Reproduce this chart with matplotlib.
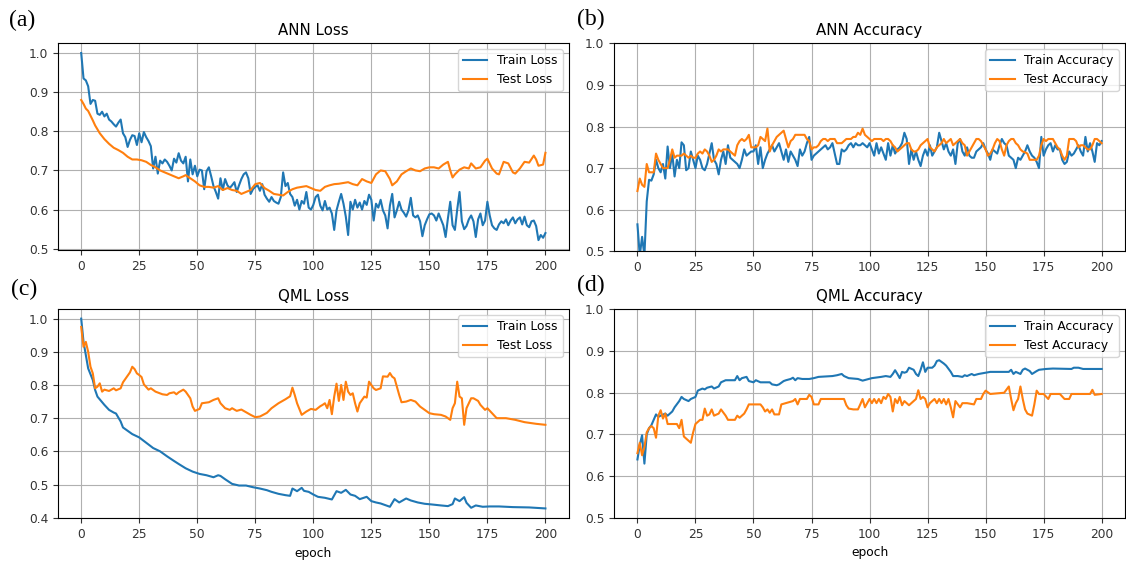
from matplotlib import pyplot as plt
import matplotlib
import numpy as np

matplotlib.rcParams.update({'font.size': 8.8})

# ---------------- ANN loss (a) ----------------
ann_train_loss = [
    1.000, 0.935, 0.930, 0.915, 0.870, 0.880, 0.878, 0.845, 0.842, 0.850,
    0.838, 0.845, 0.830, 0.825, 0.818, 0.812, 0.822, 0.830, 0.795, 0.785,
    0.760, 0.778, 0.790, 0.788, 0.765, 0.795, 0.772, 0.798, 0.785, 0.775,
    0.762, 0.705, 0.735, 0.692, 0.725, 0.718, 0.728, 0.722, 0.712, 0.700,
    0.730, 0.720, 0.744, 0.725, 0.718, 0.735, 0.672, 0.728, 0.690, 0.712,
    0.685, 0.702, 0.700, 0.652, 0.698, 0.708, 0.685, 0.660, 0.645, 0.628,
    0.680, 0.650, 0.678, 0.662, 0.655, 0.662, 0.670, 0.645, 0.662, 0.678,
    0.690, 0.695, 0.680, 0.640, 0.652, 0.658, 0.662, 0.648, 0.665, 0.638,
    0.628, 0.620, 0.632, 0.622, 0.618, 0.615, 0.632, 0.695, 0.660, 0.668,
    0.640, 0.632, 0.610, 0.625, 0.600, 0.622, 0.615, 0.645, 0.605, 0.600,
    0.612, 0.632, 0.638, 0.610, 0.598, 0.622, 0.600, 0.605, 0.590, 0.548,
    0.598, 0.620, 0.640, 0.615, 0.582, 0.535, 0.620, 0.600, 0.625, 0.605,
    0.618, 0.600, 0.622, 0.612, 0.638, 0.625, 0.572, 0.615, 0.605, 0.625,
    0.598, 0.585, 0.552, 0.610, 0.640, 0.580, 0.598, 0.620, 0.600, 0.592,
    0.582, 0.598, 0.630, 0.585, 0.580, 0.585, 0.570, 0.532, 0.560, 0.575,
    0.588, 0.590, 0.585, 0.572, 0.590, 0.575, 0.560, 0.530, 0.578, 0.620,
    0.560, 0.548, 0.600, 0.645, 0.570, 0.550, 0.558, 0.575, 0.585, 0.570,
    0.530, 0.575, 0.590, 0.560, 0.572, 0.620, 0.585, 0.560, 0.552, 0.548,
    0.562, 0.570, 0.565, 0.575, 0.560, 0.572, 0.580, 0.565, 0.575, 0.580,
    0.562, 0.582, 0.560, 0.555, 0.570, 0.572, 0.558, 0.522, 0.535, 0.528,
    0.540]

ann_test_loss_ep = [
    0, 1, 2, 3, 4, 5, 6, 8, 10, 12, 14, 16, 18, 20, 22, 24, 26, 28, 30, 32,
    34, 36, 38, 40, 42, 44, 45, 47, 49, 51, 53, 55, 57, 59, 61, 63, 65, 67,
    69, 71, 73, 75, 77, 79, 81, 83, 85, 87, 89, 91, 93, 95, 97, 99, 101, 103,
    105, 107, 109, 111, 113, 115, 117, 119, 121, 123, 125, 127, 129, 131,
    133, 134, 136, 138, 140, 142, 144, 146, 148, 150, 152, 154, 156, 158,
    159, 160, 161, 163, 165, 167, 168, 170, 172, 174, 175, 177, 179, 180,
    182, 184, 186, 187, 189, 191, 193, 195, 196, 197, 199, 200]
ann_test_loss = [
    0.880, 0.870, 0.858, 0.852, 0.840, 0.828, 0.815, 0.795, 0.780, 0.768,
    0.758, 0.752, 0.745, 0.735, 0.728, 0.728, 0.726, 0.722, 0.714, 0.708,
    0.700, 0.695, 0.690, 0.685, 0.680, 0.685, 0.688, 0.680, 0.672, 0.662,
    0.658, 0.658, 0.656, 0.660, 0.650, 0.655, 0.650, 0.648, 0.640, 0.645,
    0.650, 0.665, 0.668, 0.655, 0.648, 0.640, 0.638, 0.636, 0.645, 0.652,
    0.656, 0.658, 0.660, 0.655, 0.650, 0.648, 0.658, 0.662, 0.665, 0.666,
    0.668, 0.670, 0.665, 0.662, 0.678, 0.672, 0.668, 0.690, 0.700, 0.698,
    0.678, 0.662, 0.672, 0.690, 0.698, 0.705, 0.700, 0.698, 0.705, 0.708,
    0.708, 0.705, 0.715, 0.722, 0.700, 0.682, 0.690, 0.702, 0.708, 0.705,
    0.718, 0.705, 0.708, 0.725, 0.730, 0.705, 0.692, 0.690, 0.722, 0.718,
    0.695, 0.692, 0.705, 0.722, 0.720, 0.738, 0.728, 0.712, 0.715, 0.745]

# ---------------- ANN accuracy (b) ----------------
ann_train_acc = [
    0.565, 0.490, 0.535, 0.490, 0.620, 0.672, 0.670, 0.685, 0.720, 0.700,
    0.690, 0.710, 0.675, 0.752, 0.700, 0.735, 0.680, 0.720, 0.700, 0.762,
    0.755, 0.695, 0.700, 0.740, 0.720, 0.700, 0.730, 0.720, 0.700, 0.695,
    0.710, 0.735, 0.760, 0.720, 0.710, 0.685, 0.720, 0.740, 0.710, 0.755,
    0.725, 0.720, 0.715, 0.710, 0.700, 0.720, 0.745, 0.730, 0.735, 0.740,
    0.740, 0.755, 0.710, 0.750, 0.700, 0.720, 0.735, 0.745, 0.755, 0.740,
    0.750, 0.760, 0.740, 0.720, 0.745, 0.715, 0.740, 0.730, 0.720, 0.705,
    0.745, 0.730, 0.740, 0.760, 0.775, 0.720, 0.730, 0.735, 0.740, 0.745,
    0.750, 0.755, 0.745, 0.750, 0.760, 0.735, 0.710, 0.710, 0.745, 0.740,
    0.745, 0.755, 0.760, 0.750, 0.760, 0.755, 0.755, 0.760, 0.755, 0.750,
    0.760, 0.745, 0.730, 0.760, 0.735, 0.750, 0.735, 0.720, 0.760, 0.730,
    0.755, 0.735, 0.745, 0.750, 0.760, 0.785, 0.770, 0.710, 0.745, 0.720,
    0.740, 0.720, 0.705, 0.730, 0.745, 0.730, 0.755, 0.730, 0.740, 0.750,
    0.785, 0.765, 0.745, 0.760, 0.740, 0.730, 0.745, 0.710, 0.760, 0.770,
    0.740, 0.730, 0.750, 0.730, 0.725, 0.725, 0.740, 0.745, 0.750, 0.760,
    0.745, 0.735, 0.720, 0.745, 0.740, 0.735, 0.755, 0.770, 0.760, 0.755,
    0.730, 0.725, 0.720, 0.700, 0.725, 0.720, 0.730, 0.740, 0.755, 0.740,
    0.730, 0.725, 0.715, 0.700, 0.775, 0.730, 0.745, 0.755, 0.760, 0.740,
    0.755, 0.745, 0.745, 0.720, 0.710, 0.715, 0.740, 0.730, 0.735, 0.745,
    0.755, 0.740, 0.730, 0.775, 0.740, 0.760, 0.740, 0.715, 0.760, 0.755,
    0.765]

ann_test_acc = [
    0.645, 0.675, 0.660, 0.655, 0.710, 0.690, 0.690, 0.690, 0.735, 0.720,
    0.710, 0.700, 0.700, 0.700, 0.720, 0.745, 0.725, 0.730, 0.730, 0.730,
    0.735, 0.730, 0.725, 0.730, 0.725, 0.725, 0.735, 0.740, 0.735, 0.745,
    0.740, 0.730, 0.715, 0.720, 0.730, 0.745, 0.740, 0.745, 0.745, 0.745,
    0.740, 0.735, 0.730, 0.755, 0.765, 0.770, 0.765, 0.770, 0.780, 0.750,
    0.750, 0.750, 0.755, 0.775, 0.770, 0.765, 0.795, 0.740, 0.755, 0.765,
    0.775, 0.780, 0.785, 0.790, 0.770, 0.750, 0.765, 0.770, 0.780, 0.780,
    0.780, 0.780, 0.780, 0.770, 0.765, 0.745, 0.750, 0.750, 0.755, 0.765,
    0.770, 0.770, 0.765, 0.770, 0.770, 0.770, 0.760, 0.760, 0.760, 0.765,
    0.770, 0.770, 0.770, 0.775, 0.775, 0.785, 0.780, 0.795, 0.780, 0.775,
    0.770, 0.765, 0.770, 0.770, 0.770, 0.770, 0.765, 0.770, 0.770, 0.765,
    0.755, 0.750, 0.740, 0.745, 0.750, 0.755, 0.760, 0.760, 0.745, 0.740,
    0.740, 0.745, 0.755, 0.760, 0.765, 0.770, 0.750, 0.745, 0.740, 0.750,
    0.755, 0.760, 0.770, 0.760, 0.765, 0.770, 0.755, 0.760, 0.765, 0.770,
    0.760, 0.755, 0.730, 0.740, 0.750, 0.760, 0.770, 0.770, 0.765, 0.755,
    0.745, 0.730, 0.735, 0.745, 0.760, 0.770, 0.765, 0.745, 0.730, 0.755,
    0.765, 0.770, 0.770, 0.760, 0.755, 0.745, 0.740, 0.738, 0.735, 0.720,
    0.720, 0.720, 0.720, 0.730, 0.755, 0.770, 0.765, 0.770, 0.770, 0.770,
    0.760, 0.750, 0.745, 0.730, 0.720, 0.730, 0.770, 0.770, 0.770, 0.765,
    0.750, 0.755, 0.755, 0.750, 0.745, 0.745, 0.755, 0.770, 0.770, 0.765,
    0.760]

# ---------------- QML loss (c) ----------------
qml_train_loss_ep = [
    0, 1, 2, 3, 5, 6, 7, 10, 12, 14, 15, 17, 18, 20, 22, 25, 28, 31, 34, 37,
    40, 42, 45, 48, 51, 54, 57, 59, 60, 62, 65, 68, 71, 74, 77, 80, 82, 85,
    88, 90, 91, 93, 95, 96, 98, 100, 102, 105, 108, 110, 112, 114, 116, 118,
    120, 123, 125, 127, 129, 131, 133, 135, 137, 140, 142, 145, 148, 151,
    155, 158, 160, 161, 163, 165, 166, 168, 170, 173, 176, 180, 186, 193, 200]
qml_train_loss = [
    1.000, 0.930, 0.890, 0.850, 0.815, 0.785, 0.765, 0.740, 0.725, 0.717,
    0.714, 0.690, 0.672, 0.662, 0.652, 0.642, 0.626, 0.610, 0.600, 0.585,
    0.571, 0.562, 0.549, 0.539, 0.532, 0.528, 0.522, 0.528, 0.526, 0.516,
    0.502, 0.497, 0.497, 0.492, 0.488, 0.483, 0.478, 0.472, 0.468, 0.466,
    0.488, 0.480, 0.490, 0.481, 0.478, 0.470, 0.463, 0.460, 0.455, 0.480,
    0.475, 0.484, 0.470, 0.466, 0.456, 0.463, 0.450, 0.446, 0.443, 0.438,
    0.433, 0.456, 0.446, 0.458, 0.452, 0.446, 0.442, 0.440, 0.437, 0.435,
    0.441, 0.458, 0.450, 0.462, 0.445, 0.430, 0.437, 0.433, 0.434, 0.434,
    0.432, 0.431, 0.428]

qml_test_loss_ep = [
    0, 1, 2, 3, 4, 5, 6, 7, 8, 9, 10, 12, 14, 15, 17, 18, 20, 21, 22, 23,
    24, 25, 26, 27, 29, 30, 32, 35, 37, 38, 40, 41, 42, 44, 45, 47, 48, 49,
    51, 52, 55, 57, 59, 60, 62, 64, 65, 67, 69, 71, 73, 75, 77, 80, 82, 85,
    88, 90, 91, 92, 93, 95, 97, 99, 101, 103, 104, 105, 106, 107, 108, 109,
    110, 111, 112, 113, 114, 115, 116, 117, 118, 119, 120, 122, 123, 124,
    125, 126, 127, 129, 130, 132, 133, 134, 135, 137, 138, 140, 142, 144,
    146, 148, 150, 152, 155, 157, 158, 159, 160, 161, 162, 163, 164, 165,
    166, 168, 169, 171, 172, 174, 175, 177, 179, 183, 187, 191, 196, 200]
qml_test_loss = [
    0.975, 0.915, 0.930, 0.900, 0.855, 0.835, 0.790, 0.795, 0.805, 0.780,
    0.786, 0.782, 0.790, 0.784, 0.790, 0.808, 0.828, 0.838, 0.855, 0.848,
    0.835, 0.830, 0.824, 0.802, 0.786, 0.790, 0.780, 0.772, 0.770, 0.775,
    0.778, 0.772, 0.778, 0.786, 0.780, 0.760, 0.735, 0.722, 0.728, 0.745,
    0.748, 0.755, 0.760, 0.745, 0.730, 0.725, 0.730, 0.722, 0.726, 0.718,
    0.710, 0.703, 0.705, 0.716, 0.730, 0.745, 0.757, 0.766, 0.792, 0.770,
    0.745, 0.710, 0.720, 0.728, 0.725, 0.736, 0.740, 0.745, 0.730, 0.755,
    0.712, 0.765, 0.804, 0.752, 0.800, 0.755, 0.810, 0.780, 0.770, 0.775,
    0.745, 0.720, 0.745, 0.765, 0.762, 0.810, 0.800, 0.790, 0.785, 0.790,
    0.826, 0.825, 0.836, 0.825, 0.820, 0.770, 0.748, 0.750, 0.755, 0.750,
    0.735, 0.725, 0.715, 0.712, 0.710, 0.705, 0.700, 0.695, 0.730, 0.745,
    0.810, 0.765, 0.760, 0.680, 0.730, 0.760, 0.760, 0.752, 0.740, 0.725,
    0.730, 0.715, 0.700, 0.700, 0.695, 0.688, 0.683, 0.680]

# ---------------- QML accuracy (d) ----------------
qml_train_acc_ep = [
    0, 1, 2, 3, 4, 5, 6, 7, 8, 9, 10, 12, 13, 15, 16, 18, 19, 20, 22, 23,
    25, 26, 28, 29, 30, 32, 33, 35, 36, 38, 42, 43, 44, 45, 47, 48, 50, 51,
    53, 57, 58, 60, 61, 63, 64, 66, 67, 68, 69, 71, 74, 76, 78, 84, 86, 88,
    89, 91, 95, 97, 99, 101, 105, 107, 109, 110, 111, 112, 113, 114, 115,
    116, 117, 119, 120, 121, 122, 123, 124, 125, 127, 128, 129, 130, 132,
    133, 135, 136, 138, 140, 141, 142, 144, 145, 147, 150, 152, 160, 161,
    162, 163, 165, 166, 167, 169, 170, 172, 173, 176, 179, 187, 188, 190,
    192, 200]
qml_train_acc = [
    0.640, 0.675, 0.698, 0.630, 0.700, 0.715, 0.722, 0.735, 0.748, 0.742,
    0.745, 0.750, 0.745, 0.755, 0.765, 0.780, 0.790, 0.785, 0.780, 0.785,
    0.790, 0.805, 0.810, 0.808, 0.812, 0.815, 0.810, 0.815, 0.825, 0.830,
    0.830, 0.840, 0.830, 0.835, 0.838, 0.828, 0.825, 0.830, 0.825, 0.825,
    0.820, 0.818, 0.820, 0.828, 0.830, 0.833, 0.836, 0.830, 0.835, 0.833,
    0.833, 0.835, 0.838, 0.840, 0.842, 0.845, 0.840, 0.835, 0.833, 0.829,
    0.832, 0.835, 0.838, 0.840, 0.838, 0.845, 0.854, 0.845, 0.835, 0.850,
    0.848, 0.850, 0.860, 0.855, 0.845, 0.840, 0.855, 0.873, 0.850, 0.860,
    0.860, 0.865, 0.876, 0.878, 0.870, 0.865, 0.850, 0.840, 0.840, 0.838,
    0.842, 0.840, 0.845, 0.842, 0.845, 0.848, 0.850, 0.850, 0.855, 0.845,
    0.850, 0.845, 0.855, 0.858, 0.852, 0.845, 0.852, 0.855, 0.857, 0.858,
    0.857, 0.860, 0.860, 0.857, 0.857]

qml_test_acc_ep = [
    0, 1, 2, 3, 4, 5, 6, 7, 8, 9, 10, 11, 12, 13, 15, 17, 18, 19, 20, 21,
    23, 24, 25, 27, 28, 29, 30, 31, 32, 33, 35, 36, 38, 39, 42, 43, 44, 46,
    47, 48, 53, 54, 55, 56, 57, 58, 59, 61, 62, 67, 68, 69, 70, 73, 74, 75,
    76, 78, 79, 89, 90, 91, 93, 95, 96, 97, 98, 100, 101, 102, 103, 104,
    105, 106, 107, 108, 109, 110, 111, 112, 113, 114, 115, 117, 118, 120,
    121, 122, 123, 124, 125, 126, 128, 129, 130, 131, 132, 133, 134, 135,
    136, 137, 139, 140, 142, 145, 146, 148, 149, 150, 152, 158, 160, 161,
    162, 163, 164, 165, 166, 167, 168, 170, 171, 172, 173, 175, 177, 178,
    182, 184, 186, 187, 195, 196, 197, 200]
qml_test_acc = [
    0.655, 0.680, 0.650, 0.670, 0.705, 0.715, 0.720, 0.715, 0.692, 0.745,
    0.758, 0.738, 0.750, 0.725, 0.725, 0.725, 0.715, 0.735, 0.695, 0.690,
    0.680, 0.705, 0.725, 0.735, 0.735, 0.762, 0.745, 0.748, 0.760, 0.745,
    0.750, 0.760, 0.745, 0.735, 0.735, 0.745, 0.740, 0.750, 0.760, 0.772,
    0.772, 0.765, 0.755, 0.760, 0.752, 0.760, 0.748, 0.748, 0.772, 0.780,
    0.785, 0.772, 0.785, 0.785, 0.795, 0.790, 0.772, 0.772, 0.785, 0.785,
    0.770, 0.762, 0.760, 0.760, 0.772, 0.785, 0.765, 0.785, 0.775, 0.785,
    0.775, 0.785, 0.775, 0.790, 0.785, 0.797, 0.790, 0.755, 0.785, 0.775,
    0.790, 0.770, 0.780, 0.770, 0.775, 0.785, 0.806, 0.785, 0.790, 0.785,
    0.765, 0.775, 0.785, 0.775, 0.785, 0.775, 0.785, 0.772, 0.785, 0.765,
    0.741, 0.780, 0.765, 0.775, 0.775, 0.772, 0.785, 0.785, 0.797, 0.805,
    0.797, 0.800, 0.815, 0.785, 0.758, 0.775, 0.785, 0.815, 0.785, 0.760,
    0.750, 0.745, 0.772, 0.805, 0.797, 0.797, 0.785, 0.797, 0.797, 0.785,
    0.785, 0.797, 0.797, 0.807, 0.795, 0.797]

epochs = np.arange(len(ann_train_loss))
blue = '#1f77b4'
orange = '#ff7f0e'

fig = plt.figure(figsize=(11.26, 5.65), dpi=100)
ax_a = fig.add_axes([0.0515, 0.557, 0.4535, 0.3665])
ax_b = fig.add_axes([0.5455, 0.555, 0.4535, 0.3685])
ax_c = fig.add_axes([0.0515, 0.0825, 0.4535, 0.370])
ax_d = fig.add_axes([0.5455, 0.0835, 0.4535, 0.369])

ax_a.plot(epochs, ann_train_loss, color=blue, label='Train Loss')
ax_a.plot(ann_test_loss_ep, ann_test_loss, color=orange, label='Test Loss')
ax_a.set_title('ANN Loss', fontsize=10.8)
ax_a.set_ylim(0.496, 1.025)

ax_b.plot(epochs, ann_train_acc, color=blue, label='Train Accuracy')
ax_b.plot(epochs, ann_test_acc, color=orange, label='Test Accuracy')
ax_b.set_title('ANN Accuracy', fontsize=10.8)
ax_b.set_ylim(0.5, 1.0)

ax_c.plot(qml_train_loss_ep, qml_train_loss, color=blue, label='Train Loss')
ax_c.plot(qml_test_loss_ep, qml_test_loss, color=orange, label='Test Loss')
ax_c.set_title('QML Loss', fontsize=10.8)
ax_c.set_ylim(0.398, 1.028)
ax_c.set_xlabel('epoch')

ax_d.plot(qml_train_acc_ep, qml_train_acc, color=blue, label='Train Accuracy')
ax_d.plot(qml_test_acc_ep, qml_test_acc, color=orange, label='Test Accuracy')
ax_d.set_title('QML Accuracy', fontsize=10.8)
ax_d.set_ylim(0.5, 1.0)
ax_d.set_xlabel('epoch')

for ax in [ax_a, ax_b, ax_c, ax_d]:
    ax.set_xlim(-10, 210)
    ax.set_xticks([0, 25, 50, 75, 100, 125, 150, 175, 200])
    ax.grid()
    ax.legend(loc='upper right')
    ax.tick_params(colors='#333333', labelcolor='#333333')

# panel letters
serif = ['Liberation Serif', 'DejaVu Serif']
fig.text(0.0197, 0.964, '(a)', family=serif, fontsize=17, ha='center', va='center')
fig.text(0.5245, 0.965, '(b)', family=serif, fontsize=17, ha='center', va='center')
fig.text(0.0213, 0.487, '(c)', family=serif, fontsize=17, ha='center', va='center')
fig.text(0.525, 0.494, '(d)', family=serif, fontsize=17, ha='center', va='center')

plt.savefig('out.png', dpi=100)
